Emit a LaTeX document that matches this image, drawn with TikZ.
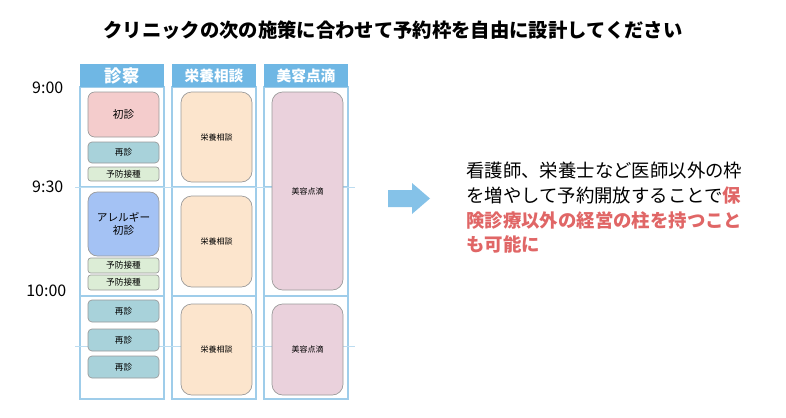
\documentclass[tikz,border=0pt]{standalone}
\usepackage{fontspec}
\setmainfont{Noto Sans CJK JP}
\definecolor{hdr}{HTML}{6FB7E4}
\definecolor{grid}{HTML}{9FCDEA}
\definecolor{c1}{HTML}{F4CCCC}
\definecolor{c2}{HTML}{A8D2DA}
\definecolor{c3}{HTML}{DCEDD6}
\definecolor{c4}{HTML}{A4C2F4}
\definecolor{c5}{HTML}{FCE5CD}
\definecolor{c6}{HTML}{EAD1DC}
\definecolor{red}{HTML}{E06666}
\begin{document}
\begin{tikzpicture}[x=0.75pt,y=-0.75pt,
 col/.style={draw=grid,line width=0.8pt},
 hd/.style={text=white,font=\bfseries\fontsize{11}{12}\selectfont,inner sep=0pt},
 bx/.style={draw=gray!80,rounded corners=#1,line width=0.5pt,inner sep=0pt,align=center},
 bx/.default=5pt,
 sm/.style={font=\fontsize{6.5}{7}\selectfont},
 md/.style={font=\fontsize{8}{10}\selectfont},
 tm/.style={font=\fontsize{12}{13}\selectfont,anchor=east}]
\useasboundingbox (0,0) rectangle (786,418);
\node[font=\bfseries\fontsize{14.5}{16}\selectfont] (title) at (393,30) {クリニックの次の施策に合わせて予約枠を自由に設計してください};
% columns
\foreach \a/\b in {80/164,172/256,264/348}{
 \draw[col] (\a,87) rectangle (\b,399);
 \draw[col] (\a,187) -- (\b,187);
 \draw[col] (\a,296) -- (\b,296);
}
\draw[grid!70,line width=0.4pt] (75,346) -- (355,346);
\draw[grid!70,line width=0.4pt] (75,187) -- (355,187);
\fill[hdr] (80,64) rectangle (164,87); \node[hd] (h1) at (122,75.5) {\fontsize{13}{14}\selectfont 診察};
\fill[hdr] (172,64) rectangle (256,87); \node[hd] (h2) at (214,75.5) {栄養相談};
\fill[hdr] (264,64) rectangle (348,87); \node[hd] (h3) at (306,75.5) {美容点滴};
\node[tm] (t1) at (68,88) {9:00};
\node[tm] (t2) at (68,187) {9:30};
\node[tm] (t3) at (71,291) {10:00};
% col1
\path[bx,fill=c1] (88,92) rectangle (159,137); \node[md] (a1) at (123.5,114.5) {初診};
\path[bx=3pt,fill=c2] (88,142) rectangle (159,163); \node[sm] (a2) at (123.5,152.5) {再診};
\path[bx=2pt,fill=c3] (88,167) rectangle (159,181); \node[sm] (a3) at (123.5,174) {予防接種};
\path[bx=7pt,fill=c4] (88,192) rectangle (159,256); \node[md,align=center] (a4) at (123.5,224) {アレルギー\\初診};
\path[bx=2pt,fill=c3] (88,258) rectangle (159,273); \node[sm] (a5) at (123.5,265.5) {予防接種};
\path[bx=2pt,fill=c3] (88,275) rectangle (159,290); \node[sm] (a6) at (123.5,282.5) {予防接種};
\path[bx=3pt,fill=c2] (88,300) rectangle (159,322); \node[sm] (a7) at (123.5,311) {再診};
\path[bx=3pt,fill=c2] (88,329) rectangle (159,351); \node[sm] (a8) at (123.5,340) {再診};
\path[bx=3pt,fill=c2] (88,356) rectangle (159,378); \node[sm] (a9) at (123.5,367) {再診};
% col2
\foreach \p/\q/\n in {92/182/b1,196/287/b2,304/395/b3}{
 \path[bx=8pt,fill=c5] (181,\p) rectangle (252,\q);
 \node[font=\fontsize{6}{7}\selectfont] (\n) at (216.5,{(\p+\q)/2}) {栄養相談};
}
% col3
\path[bx=8pt,fill=c6] (272,92) rectangle (343,290); \node[font=\fontsize{6}{7}\selectfont] (c1n) at (307.5,191) {美容点滴};
\path[bx=8pt,fill=c6] (272,304) rectangle (343,395); \node[font=\fontsize{6}{7}\selectfont] (c2n) at (307.5,349.5) {美容点滴};
% arrow
\fill[hdr!85] (388,190) -- (412,190) -- (412,183) -- (430,198.5) -- (412,214) -- (412,207) -- (388,207) -- cycle;
\node[anchor=north west,align=left,font=\fontsize{13.8}{18.5}\selectfont,inner sep=0pt] (txt) at (466,162)
{看護師、栄養士など医師以外の枠\\を増やして予約開放することで\textcolor{red}{\bfseries 保}\\\textcolor{red}{\bfseries 険診療以外の経営の柱を持つこと}\\\textcolor{red}{\bfseries も可能に}};
\end{tikzpicture}
\end{document}
